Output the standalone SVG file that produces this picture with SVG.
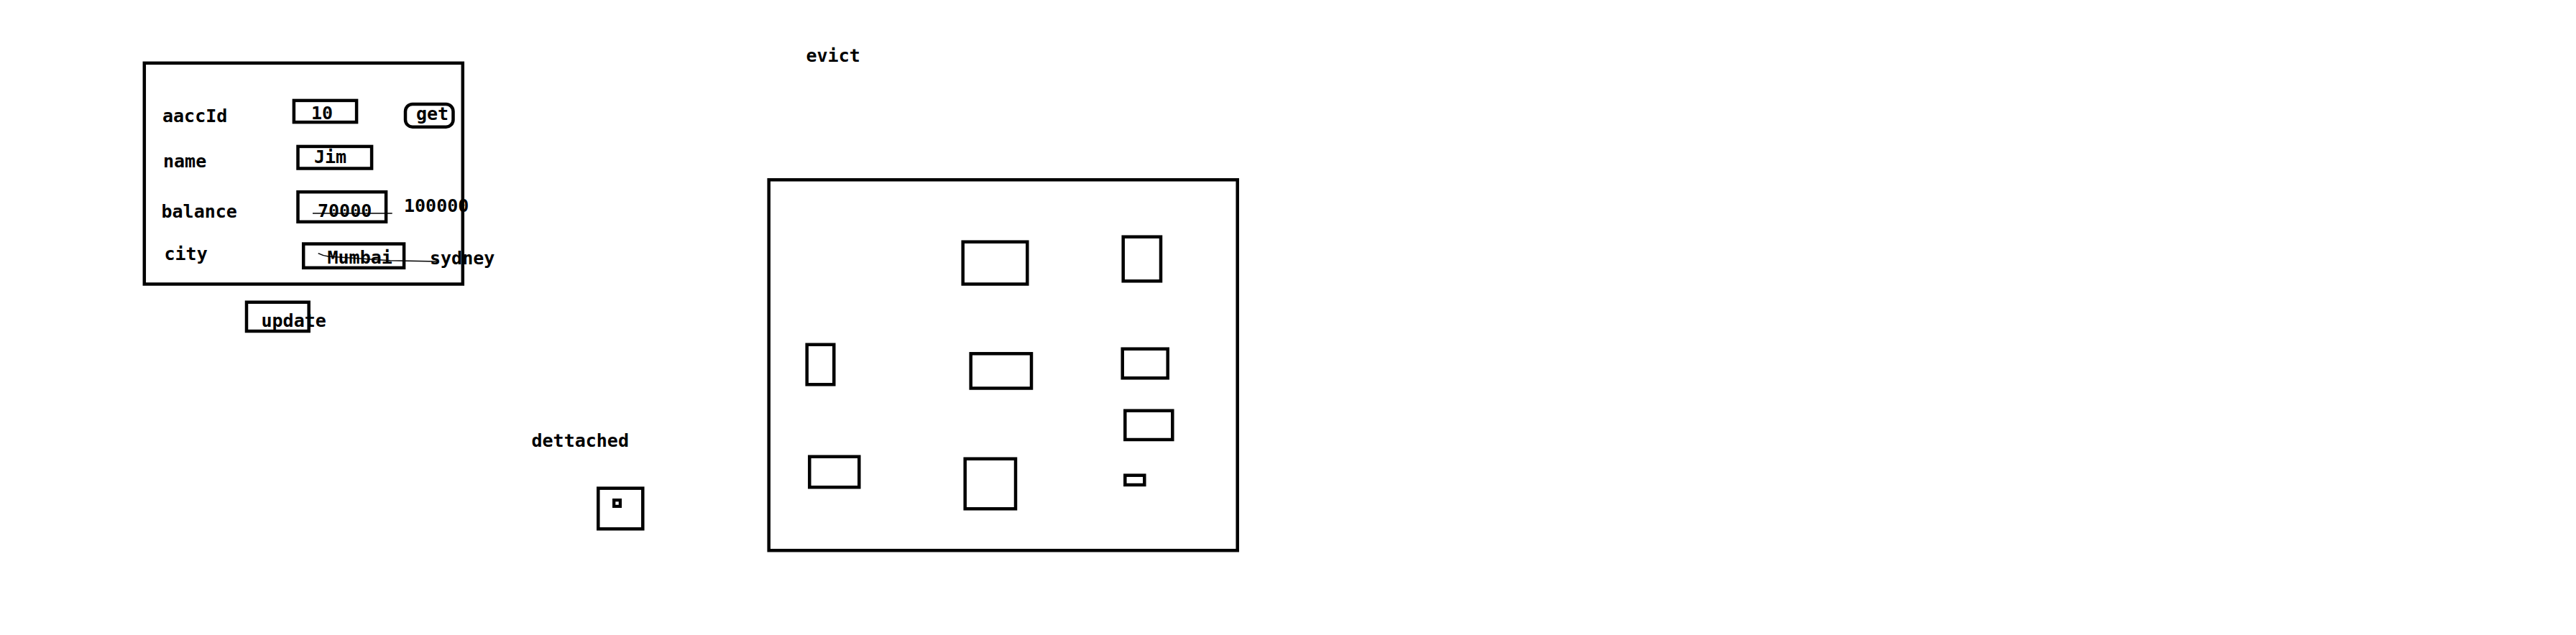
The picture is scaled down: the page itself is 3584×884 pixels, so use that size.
<svg xmlns="http://www.w3.org/2000/svg" width="3584" height="884" viewBox="0 0 3584 884">
<style>
  .box { fill: none; stroke: #000; stroke-width: 4.5; }
  .t { font-family: "DejaVu Sans Mono", "Liberation Mono", monospace; font-weight: bold; font-size: 25px; fill: #000; }
  .strike { fill: none; stroke: #000; stroke-width: 1.5; }
</style>
<rect width="3584" height="884" fill="#fff"/>

<g id="account-object">
  <rect class="box" x="200.8" y="87.8" width="443" height="307.7"/>
  <text class="t" x="226" y="170">aaccId</text>
  <text class="t" x="227" y="232.5">name</text>
  <text class="t" x="224.5" y="302.5">balance</text>
  <text class="t" x="228.5" y="362">city</text>
</g>

<g id="field-accid">
  <rect class="box" x="408.9" y="139.9" width="87.2" height="30.2"/>
  <text class="t" x="433" y="165.5">10</text>
</g>

<g id="btn-get">
  <rect class="box" x="564" y="145" width="66.5" height="31.7" rx="10"/>
  <text class="t" x="579" y="166.5">get</text>
</g>

<g id="field-name">
  <rect class="box" x="414.5" y="203.9" width="102.6" height="30.6"/>
  <text class="t" x="437" y="226.5">Jim</text>
</g>

<g id="field-balance">
  <rect class="box" x="414.5" y="267.2" width="122.6" height="41.6"/>
  <text class="t" x="442" y="301.5">70000</text>
</g>

<g id="label-100000">
  <text class="t" x="562" y="295">100000</text>
</g>

<g id="field-city">
  <rect class="box" x="422.2" y="339.5" width="139.9" height="33.3"/>
  <text class="t" x="455.5" y="367">Mumbai</text>
</g>

<g id="label-sydney">
  <text class="t" x="598" y="368">sydney</text>
</g>

<g id="strikes">
  <line class="strike" x1="435" y1="297" x2="545.7" y2="297"/>
  <path class="strike" d="M442.7,352.7 Q450,356.5 457,357 L543,362.7 L610,364"/>
</g>

<g id="btn-update">
  <rect class="box" x="343" y="420.7" width="86.7" height="40.3"/>
  <text class="t" x="363.5" y="455">update</text>
</g>

<g id="label-dettached">
  <text class="t" x="739.5" y="622">dettached</text>
</g>

<g id="detached-object">
  <rect class="box" x="832.3" y="679.7" width="62" height="56.6"/>
  <rect x="854.2" y="696.2" width="8.7" height="8.7" fill="none" stroke="#000" stroke-width="4.3"/>
</g>

<g id="label-evict">
  <text class="t" x="1121.5" y="86">evict</text>
</g>

<g id="persistence-context">
  <rect class="box" x="1069.7" y="250.3" width="652" height="516"/>
</g>

<g id="entity-1"><rect class="box" x="1339.7" y="336.7" width="89.6" height="58.8"/></g>
<g id="entity-2"><rect class="box" x="1562.7" y="329.7" width="52.3" height="61.6"/></g>
<g id="entity-3"><rect class="box" x="1122.7" y="479.7" width="37.6" height="55.6"/></g>
<g id="entity-4"><rect class="box" x="1350.7" y="492.3" width="84.3" height="48.2"/></g>
<g id="entity-5"><rect class="box" x="1561.7" y="485.7" width="63" height="40.6"/></g>
<g id="entity-6"><rect class="box" x="1565.3" y="571.7" width="66" height="40.3"/></g>
<g id="entity-7"><rect class="box" x="1126.3" y="635.7" width="69" height="42.6"/></g>
<g id="entity-8"><rect class="box" x="1342.7" y="638.7" width="70.3" height="69.6"/></g>
<g id="entity-9"><rect class="box" x="1565.3" y="661.7" width="27" height="13.3"/></g>
</svg>
